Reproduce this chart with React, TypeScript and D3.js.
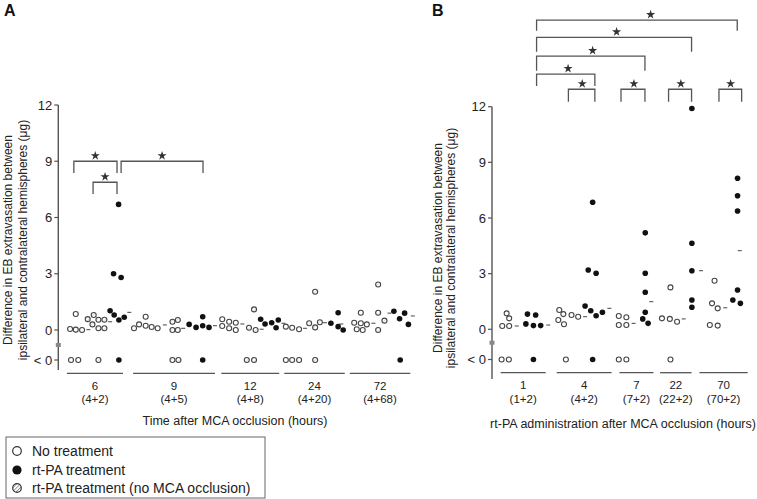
import React from 'react';
import * as d3 from 'd3';

const W = 757;
const H = 499;
const FONT = '"Liberation Sans", Arial, Helvetica, sans-serif';

// ---------- Panel A data ----------
const groupsA = ['6', '9', '12', '24', '72'];
const groupSubA = ['(4+2)', '(4+5)', '(4+8)', '(4+20)', '(4+68)'];
const groupColsA: [number, number][] = [[1.1, 10.0], [11.6, 24.6], [25.6, 34.8], [35.6, 45.2], [46.0, 55.6]];

// [column, value]
const noTreatA: [number, number][] = [
  [1.6, 0.05], [2.5, 0.02], [3.5, 0.0], [2.5, 0.85],
  [11.75, 0.09], [12.55, 0.3], [13.6, 0.71], [13.6, 0.23], [14.55, 0.16], [15.5, 0.09],
  [25.75, 0.57], [25.75, 0.21], [26.85, 0.44], [26.85, 0.09], [27.9, 0.39], [27.9, 0.0],
  [35.85, 0.18], [36.85, 0.12], [37.95, 0.04],
  [46.7, 0.39], [47.75, 0.92], [47.75, 0.36], [47.1, 0.04], [48.05, 0.0], [48.7, 0.3],
];
const negNoTreatA = [1.75, 2.9, 35.85, 36.85, 37.95];

const noMcaA: [number, number][] = [
  [4.4, 0.58], [5.35, 0.8], [6.1, 0.55], [5.15, 0.3], [6.1, 0.09], [7.05, 0.09], [7.05, 0.55],
  [17.85, 0.44], [18.7, 0.53], [17.85, 0.0], [18.7, 0.0],
  [30.8, 1.1], [30.0, 0.12], [31.05, 0.0],
  [39.55, 0.36], [40.5, 0.14], [40.5, 2.04], [41.25, 0.41],
  [50.5, 2.43], [50.5, 0.92], [50.5, 0.0], [51.5, 0.5],
];
const negNoMcaA = [6.1, 17.85, 18.8, 29.65, 30.8, 40.5];

const rtpaA: [number, number][] = [
  [7.95, 1.03], [8.6, 0.8], [9.35, 0.53], [10.2, 0.68], [9.3, 6.7], [8.5, 3.0], [9.7, 2.8],
  [20.5, 0.3], [21.6, 0.14], [22.65, 0.71], [22.65, 0.23], [23.65, 0.14],
  [31.85, 0.57], [32.55, 0.32], [33.6, 0.39], [34.65, 0.53], [34.3, 0.12],
  [43.0, 0.36], [44.15, 0.92], [44.15, 0.18], [44.95, 0.0],
  [53.0, 1.0], [53.9, 0.6], [54.7, 0.9], [55.3, 0.3],
];
const negRtpaA = [9.35, 22.65, 54.0];

const medA: [number, number][] = [
  [4.5, 0.02], [7.95, 0.44], [11.0, 0.94], [16.65, 0.27], [19.55, 0.09], [24.6, 0.23],
  [28.95, 0.32], [32.0, 0.04], [35.45, 0.36], [38.9, 0.09], [42.05, 0.39], [44.65, 0.32],
  [49.75, 0.36], [52.3, 0.9], [56.0, 0.75],
];

// [left col, right col, top value, leg value, star col]
const bracketsA: [number, number, number, number, number][] = [
  [2.2, 9.05, 9.0, 8.38, 5.6],
  [5.25, 9.05, 7.88, 7.25, 7.15],
  [9.7, 22.7, 9.0, 8.38, 16.2],
];

// ---------- Panel B data ----------
const groupsB = ['1', '4', '7', '22', '70'];
const groupSubB = ['(1+2)', '(4+2)', '(7+2)', '(22+2)', '(70+2)'];
const groupColsB: [number, number][] = [[0.9, 8.05], [9.8, 18.5], [19.75, 25.15], [26.2, 31.2], [32.45, 40.1]];

const noTreatB: [number, number][] = [
  [1.85, 0.86], [2.25, 0.59], [1.15, 0.18], [2.25, 0.18],
  [10.2, 1.04], [10.85, 0.82], [10.05, 0.5], [10.95, 0.27], [12.15, 0.77], [13.2, 0.68],
  [19.65, 0.72], [20.85, 0.65], [19.65, 0.23], [20.85, 0.23],
  [27.85, 2.26], [26.5, 0.59], [27.75, 0.56], [28.9, 0.41],
  [34.85, 2.62], [34.45, 1.4], [35.35, 1.13], [34.1, 0.23], [35.35, 0.2],
];
const negNoTreatB = [1.05, 2.2, 11.25, 19.65, 20.85, 27.85];

const rtpaB: [number, number][] = [
  [5.15, 0.82], [6.45, 0.77], [4.9, 0.29], [6.1, 0.2], [7.25, 0.2],
  [14.3, 1.26], [15.2, 1.0], [16.05, 0.73], [17.05, 0.92], [15.5, 6.85], [14.8, 3.2], [16.05, 3.02],
  [23.85, 5.2], [23.85, 3.02], [23.85, 2.0], [23.85, 0.92], [23.45, 0.56], [24.3, 0.32],
  [31.25, 11.9], [31.25, 4.64], [31.25, 3.16], [31.25, 1.58], [31.25, 1.19],
  [38.5, 8.14], [38.5, 7.2], [38.5, 6.38], [38.5, 2.12], [37.75, 1.58], [38.95, 1.4],
];
const negRtpaB = [6.1, 15.5];

const medB: [number, number][] = [
  [3.45, 0.18], [8.45, 0.23], [14.3, 0.68], [18.15, 1.13], [22.0, 0.32], [24.8, 1.49],
  [29.95, 0.56], [32.7, 3.16], [36.55, 1.16], [38.85, 4.24],
];

const bracketsB: [number, number, number, number, number][] = [
  [6.6, 38.45, 16.67, 16.1, 24.7],
  [6.6, 31.2, 15.74, 14.96, 19.3],
  [6.6, 23.8, 14.73, 13.94, 15.5],
  [6.6, 15.85, 13.76, 13.12, 11.6],
  [11.65, 15.85, 12.94, 12.27, 13.85],
  [20.0, 23.8, 12.94, 12.27, 22.05],
  [27.55, 31.2, 12.94, 12.27, 29.5],
  [35.55, 39.15, 12.94, 12.27, 37.4],
];

const yTicks = [0, 3, 6, 9, 12];
const yTitle1 = 'Difference in EB extravasation between';
const yTitle2 = 'ipsilateral and contralateral hemispheres (\u03bcg)';
const legendItems = ['No treatment', 'rt-PA treatment', 'rt-PA treatment (no MCA occlusion)'];

const AXIS = '#555';
const starPath = d3.symbol().type(d3.symbolStar).size(26)() as string;

type PanelProps = {
  letter: string;
  letterX: number;
  x: d3.ScaleLinear<number, number>;
  y: d3.ScaleLinear<number, number>;
  axisX: number;
  axisBottom: number;
  negOffset: number;
  breakOffset: number;
  underlineY: number;
  groups: string[];
  subs: string[];
  groupCols: [number, number][];
  open: [number, number][];
  negOpen: number[];
  hatched: [number, number][];
  negHatched: number[];
  filled: [number, number][];
  negFilled: number[];
  med: [number, number][];
  brackets: [number, number, number, number, number][];
  xTitle: string;
  xTitleX: number;
  xTitleY: number;
  yTitleX: [number, number];
  yTitleY: number;
};

function Panel(p: PanelProps) {
  const y0 = p.y(0);
  const yNeg = y0 + p.negOffset;
  const yBreak = y0 + p.breakOffset;
  const yTop = p.y(12);
  return (
    <g fontFamily={FONT}>
      <text x={p.letterX} y={16} fontSize={16} fontWeight="bold" fill="#111">{p.letter}</text>
      {/* y axis */}
      <line x1={p.axisX} x2={p.axisX} y1={yTop} y2={p.axisBottom} stroke={AXIS} strokeWidth={1.4} />
      {yTicks.map((t) => (
        <g key={t}>
          <line x1={p.axisX - 4} x2={p.axisX} y1={p.y(t)} y2={p.y(t)} stroke={AXIS} strokeWidth={1.2} />
          <text x={p.axisX - 6} y={p.y(t)} textAnchor="end" dominantBaseline="central" fontSize={13} fill="#222">{t}</text>
        </g>
      ))}
      <line x1={p.axisX - 4} x2={p.axisX} y1={yNeg} y2={yNeg} stroke={AXIS} strokeWidth={1.2} />
      <text x={p.axisX - 6} y={yNeg} textAnchor="end" dominantBaseline="central" fontSize={13} fill="#222">&lt; 0</text>
      <rect x={p.axisX - 2.5} y={yBreak - 2} width={5} height={4} fill="#888" />
      {/* y title */}
      <text transform={`translate(${p.yTitleX[0]},${p.yTitleY}) rotate(-90)`} textAnchor="middle" dominantBaseline="central" fontSize={12} fill="#222">{yTitle1}</text>
      <text transform={`translate(${p.yTitleX[1]},${p.yTitleY}) rotate(-90)`} textAnchor="middle" dominantBaseline="central" fontSize={12} fill="#222">{yTitle2}</text>
      {/* groups */}
      {p.groups.map((g, i) => {
        const [c0, c1] = p.groupCols[i];
        const cx = (p.x(c0) + p.x(c1)) / 2;
        return (
          <g key={g}>
            <line x1={p.x(c0)} x2={p.x(c1)} y1={p.underlineY} y2={p.underlineY} stroke={AXIS} strokeWidth={1.3} />
            <text x={cx} y={p.underlineY + 12.5} textAnchor="middle" dominantBaseline="central" fontSize={11.5} fill="#222">{g}</text>
            <text x={cx} y={p.underlineY + 26} textAnchor="middle" dominantBaseline="central" fontSize={11.5} fill="#222">{p.subs[i]}</text>
          </g>
        );
      })}
      <text x={p.xTitleX} y={p.xTitleY} textAnchor="middle" dominantBaseline="central" fontSize={12.5} fill="#222">{p.xTitle}</text>
      {/* medians */}
      {p.med.map(([c, v], i) => (
        <line key={'m' + i} x1={p.x(c) - 2} x2={p.x(c) + 2} y1={p.y(v)} y2={p.y(v)} stroke="#555" strokeWidth={1.1} />
      ))}
      {/* points */}
      {p.open.map(([c, v], i) => (
        <circle key={'o' + i} cx={p.x(c)} cy={p.y(v)} r={2.5} fill="#fff" stroke="#444" strokeWidth={1.1} />
      ))}
      {p.negOpen.map((c, i) => (
        <circle key={'no' + i} cx={p.x(c)} cy={yNeg} r={2.5} fill="#fff" stroke="#444" strokeWidth={1.1} />
      ))}
      {p.hatched.map(([c, v], i) => (
        <circle key={'h' + i} cx={p.x(c)} cy={p.y(v)} r={2.5} fill="url(#hatchSmall)" stroke="#444" strokeWidth={1.1} />
      ))}
      {p.negHatched.map((c, i) => (
        <circle key={'nh' + i} cx={p.x(c)} cy={yNeg} r={2.5} fill="url(#hatchSmall)" stroke="#444" strokeWidth={1.1} />
      ))}
      {p.filled.map(([c, v], i) => (
        <circle key={'f' + i} cx={p.x(c)} cy={p.y(v)} r={2.8} fill="#111" />
      ))}
      {p.negFilled.map((c, i) => (
        <circle key={'nf' + i} cx={p.x(c)} cy={yNeg} r={2.8} fill="#111" />
      ))}
      {/* brackets */}
      {p.brackets.map(([a, b, top, leg, s], i) => (
        <g key={'b' + i}>
          <path d={`M${p.x(a)},${p.y(leg)}V${p.y(top)}H${p.x(b)}V${p.y(leg)}`} fill="none" stroke={AXIS} strokeWidth={1.3} />
          <path d={starPath} transform={`translate(${p.x(s)},${p.y(top) - 5.5})`} fill="#333" />
        </g>
      ))}
    </g>
  );
}

export default function App() {
  const xA = d3.scaleLinear().domain([0, 56]).range([60, 60 + 56 * 6.3]);
  const yA = d3.scaleLinear().domain([0, 12]).range([330, 105]);
  const xB = d3.scaleLinear().domain([0, 41]).range([495, 495 + 41 * 6.3]);
  const yB = d3.scaleLinear().domain([0, 12]).range([329.3, 106.7]);

  return (
    <svg width={W} height={H} style={{ position: 'absolute', left: 0, top: 0, background: '#fff' }}>
      <defs>
        <pattern id="hatchSmall" patternUnits="userSpaceOnUse" width={3} height={3} patternTransform="rotate(45)">
          <rect width={3} height={3} fill="#fff" />
          <line x1={0} y1={0} x2={0} y2={3} stroke="#aaa" strokeWidth={0.8} />
        </pattern>
        <pattern id="hatchLegend" patternUnits="userSpaceOnUse" width={2.6} height={2.6} patternTransform="rotate(45)">
          <rect width={2.6} height={2.6} fill="#fff" />
          <line x1={0} y1={0} x2={0} y2={2.6} stroke="#555" strokeWidth={1.1} />
        </pattern>
      </defs>
      <rect width={W} height={H} fill="#fff" />
      <Panel
        letter="A" letterX={4} x={xA} y={yA} axisX={58.3} axisBottom={370}
        negOffset={30} breakOffset={15} underlineY={373.3}
        groups={groupsA} subs={groupSubA} groupCols={groupColsA}
        open={noTreatA} negOpen={negNoTreatA}
        hatched={noMcaA} negHatched={negNoMcaA}
        filled={rtpaA} negFilled={negRtpaA}
        med={medA} brackets={bracketsA}
        xTitle="Time after MCA occlusion (hours)" xTitleX={235} xTitleY={421}
        yTitleX={[8, 23]} yTitleY={240}
      />
      <Panel
        letter="B" letterX={432} x={xB} y={yB} axisX={492} axisBottom={379}
        negOffset={30.2} breakOffset={13.4} underlineY={372.7}
        groups={groupsB} subs={groupSubB} groupCols={groupColsB}
        open={noTreatB} negOpen={negNoTreatB}
        hatched={[]} negHatched={[]}
        filled={rtpaB} negFilled={negRtpaB}
        med={medB} brackets={bracketsB}
        xTitle="rt-PA administration after MCA occlusion (hours)" xTitleX={623} xTitleY={424}
        yTitleX={[438, 451]} yTitleY={248}
      />
      {/* legend */}
      <g fontFamily={FONT}>
        <rect x={6} y={437} width={259} height={61} fill="#fff" stroke="#666" strokeWidth={1} />
        {legendItems.map((t, i) => {
          const cy = [451, 470, 488][i];
          return (
            <g key={t}>
              {i === 0 && <circle cx={17} cy={cy} r={4.3} fill="#fff" stroke="#333" strokeWidth={1.2} />}
              {i === 1 && <circle cx={17} cy={cy} r={4.6} fill="#111" />}
              {i === 2 && <circle cx={17} cy={cy} r={4.3} fill="url(#hatchLegend)" stroke="#333" strokeWidth={1.2} />}
              <text x={32} y={cy} dominantBaseline="central" fontSize={14} fill="#222">{t}</text>
            </g>
          );
        })}
      </g>
    </svg>
  );
}
